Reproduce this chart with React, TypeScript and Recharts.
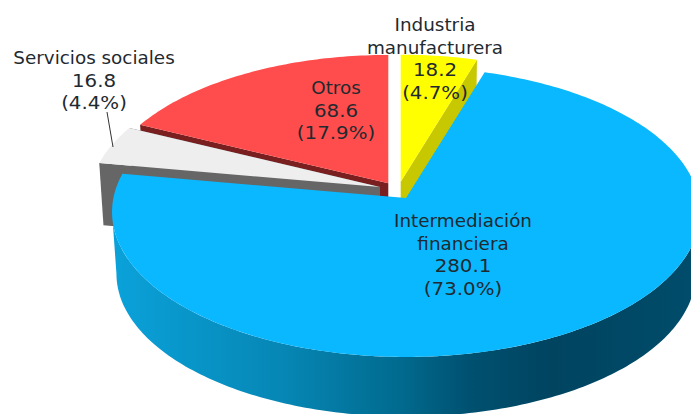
import { PieChart, Pie } from 'recharts';

// clockwise starting at Otros; the grey slice comes last so its wall covers the red one
const categories = ['Otros', 'Industria manufacturera', 'Intermediación financiera', 'Servicios sociales'];
const values = [68.6, 18.2, 280.1, 16.8];

const topColors = ['#ff4d4d', '#ffff00', '#0ab8ff', '#eeeeee'];
const sideColors = ['#7a1f1f', '#c8c800', 'url(#blueSide)', '#666666'];

// how each slice is pulled out of the pie: offset of the tip and scale of the slice
const offsetX = [-17.7, -5.3, 0, -26];
const offsetY = [-14.7, -16.3, 0, -11];
const sliceScale = [0.98, 0.97, 1, 0.99];

// label layout: centre x, first line centre y, wrapped lines
const labelX = [336, 435, 463, 94];
const labelY = [88, 25, 221, 58];
const labelNames = [['Otros'], ['Industria', 'manufacturera'], ['Intermediación', 'financiera'], ['Servicios sociales']];

const WIDTH = 691;
const HEIGHT = 414;
const CX = 406;
const CY = 198;
const RADIUS = 292.6;
const TILT = 0.4908;
const PERSPECTIVE = 0.0965;
const DEPTH = 62;
const DEPTH_SCALE = 0.985;
const LINE_HEIGHT = 22.4;
const FONT_SIZE = 18;
const NAME_STRETCH = 1.02;
const NUMBER_STRETCH = 1.1;
const BIG_SLICE = 2;

const data = categories.map((name, i) => ({ name, value: values[i], index: i }));
const total = values.reduce((a, b) => a + b, 0);
const startAngle = 90 + (360 * values[0]) / total;

// pie angles where the rim of the big slice turns away from the viewer
const rimTurn = (Math.acos(-PERSPECTIVE) * 180) / Math.PI;
const rimFrom = 90 - rimTurn;
const rimTo = rimTurn - 270;

// circle point at pie angle -> screen point, through a simple perspective
function project(angle: number, x0: number, y0: number, r: number) {
  const t = ((90 - angle) * Math.PI) / 180;
  const d = 1 + PERSPECTIVE * Math.cos(t);
  return [x0 + (r * Math.sin(t)) / d, y0 - (r * TILT * Math.cos(t)) / d];
}

function arcPoints(from: number, to: number, x0: number, y0: number, r: number) {
  const steps = Math.max(2, Math.ceil(Math.abs(to - from)));
  const pts = [];
  for (let i = 0; i <= steps; i++) {
    pts.push(project(from + ((to - from) * i) / steps, x0, y0, r));
  }
  return pts;
}

const toPath = (pts: number[][]) => 'M' + pts.map((p) => `${p[0].toFixed(2)},${p[1].toFixed(2)}`).join('L') + 'Z';

function TopFace(props: any) {
  const { cx, cy, outerRadius, startAngle: a0, endAngle: a1 } = props;
  const i = props.payload?.index ?? props.index;
  const x0 = cx + offsetX[i];
  const y0 = cy + offsetY[i];
  const pts = [[x0, y0], ...arcPoints(a0, a1, x0, y0, outerRadius * sliceScale[i])];
  return <path d={toPath(pts)} fill={topColors[i]} stroke="none" />;
}

function SideFace(props: any) {
  const { cx, cy, outerRadius, startAngle: a0, endAngle: a1 } = props;
  const i = props.payload?.index ?? props.index;
  const x0 = cx + offsetX[i];
  const y0 = cy + offsetY[i];
  const r = outerRadius * sliceScale[i];
  if (i === BIG_SLICE) {
    const from = Math.min(a0, rimFrom);
    const to = Math.max(a1, rimTo);
    const rimTop = arcPoints(from, to, x0, y0, r);
    const rimBottom = arcPoints(from, to, x0, y0 + DEPTH, r * DEPTH_SCALE).reverse();
    return <path d={toPath([...rimTop, ...rimBottom])} fill={sideColors[i]} stroke="none" />;
  }
  // small slices only show the flat cut walls
  const top = arcPoints(a0, a1, x0, y0, r);
  const bottom = arcPoints(a0, a1, x0, y0 + DEPTH, r * DEPTH_SCALE).reverse();
  const walls = [
    [[x0, y0], top[0], bottom[bottom.length - 1], [x0, y0 + DEPTH]],
    [[x0, y0], top[top.length - 1], bottom[0], [x0, y0 + DEPTH]],
  ];
  return (
    <g>
      {walls.map((w, k) => (
        <path key={k} d={toPath(w)} fill={sideColors[i]} stroke="none" />
      ))}
    </g>
  );
}

function SliceLabel(props: any) {
  const i = props.index;
  const names = labelNames[i];
  const lines = [...names, values[i].toFixed(1), `(${((values[i] / total) * 100).toFixed(1)}%)`];
  return (
    <g>
      {i === 3 && <line x1={107} y1={112} x2={113} y2={147} stroke="#333333" strokeWidth={1} />}
      {lines.map((line, k) => (
        <text
          key={k}
          transform={`translate(${labelX[i]},${labelY[i] + k * LINE_HEIGHT}) scale(${k < names.length ? NAME_STRETCH : NUMBER_STRETCH},1)`}
          textAnchor="middle"
          dominantBaseline="central"
          fontFamily="'DejaVu Sans', Verdana, sans-serif"
          fontSize={FONT_SIZE}
          fill="#1f2a30"
        >
          {line}
        </text>
      ))}
    </g>
  );
}

export default function App() {
  return (
    <div style={{ position: 'absolute', left: 0, top: 0, width: WIDTH, height: HEIGHT, background: '#ffffff', overflow: 'hidden' }}>
      <PieChart width={WIDTH} height={HEIGHT} margin={{ top: 0, right: 0, bottom: 0, left: 0 }}>
        <defs>
          <linearGradient id="blueSide" gradientUnits="userSpaceOnUse" x1={112} y1={0} x2={691} y2={0}>
            <stop offset="0" stopColor="#0aa2da" />
            <stop offset="0.3" stopColor="#0686b4" />
            <stop offset="0.5" stopColor="#016a8e" />
            <stop offset="0.62" stopColor="#005070" />
            <stop offset="0.76" stopColor="#004460" />
            <stop offset="1" stopColor="#004c6a" />
          </linearGradient>
        </defs>
        <Pie
          data={data}
          dataKey="value"
          nameKey="name"
          cx={CX}
          cy={CY}
          outerRadius={RADIUS}
          startAngle={startAngle}
          endAngle={startAngle - 360}
          stroke="none"
          isAnimationActive={false}
          shape={SideFace}
          inactiveShape={SideFace}
          label={false}
          labelLine={false}
        />
        <Pie
          data={data}
          dataKey="value"
          nameKey="name"
          cx={CX}
          cy={CY}
          outerRadius={RADIUS}
          startAngle={startAngle}
          endAngle={startAngle - 360}
          stroke="none"
          isAnimationActive={false}
          shape={TopFace}
          inactiveShape={TopFace}
          label={SliceLabel}
          labelLine={false}
        />
      </PieChart>
    </div>
  );
}
